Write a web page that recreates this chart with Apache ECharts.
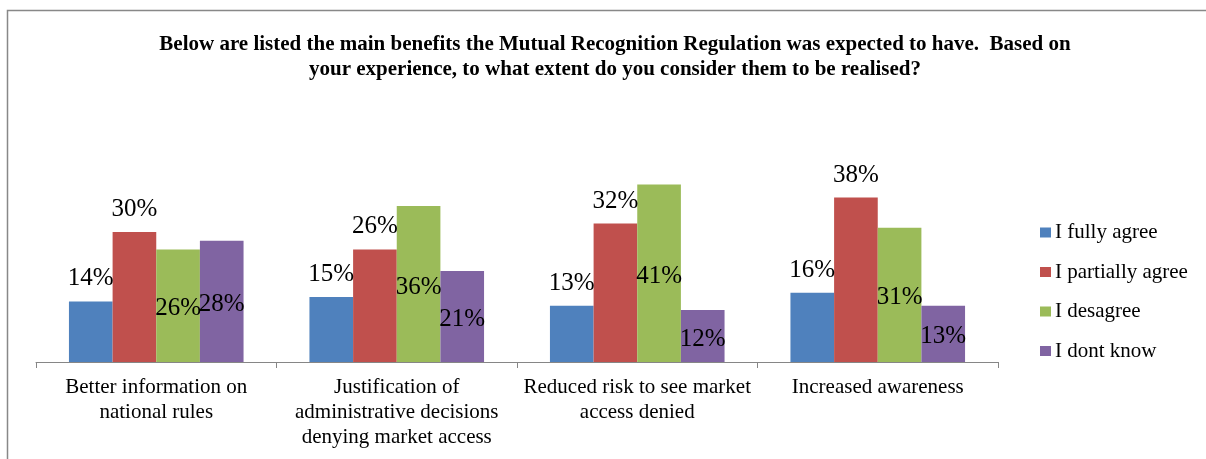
<!DOCTYPE html>
<html>
<head>
<meta charset="utf-8">
<title>Mutual Recognition Regulation benefits</title>
<script src="https://cdn.jsdelivr.net/npm/echarts@6/dist/echarts.min.js"></script>
<style>
  html, body { margin: 0; padding: 0; background: #fff; }
  #chart { width: 1206px; height: 459px; }
</style>
</head>
<body>
<div id="chart"></div>
<script>
// data
const categories = [
  'Better information on\nnational rules',
  'Justification of\nadministrative decisions\ndenying market access',
  'Reduced risk to see market\naccess denied',
  'Increased awareness'
];
const seriesNames = ['I fully agree', 'I partially agree', 'I desagree', 'I dont know'];
const fullyAgree = [14, 15, 13, 16];
const partiallyAgree = [30, 26, 32, 38];
const disagree = [26, 36, 41, 31];
const dontKnow = [28, 21, 12, 13];
const colors = ['#4F81BD', '#C0504D', '#9BBB59', '#8064A2'];

const serif = '"Liberation Serif", "Times New Roman", serif';

const myChart = echarts.init(document.getElementById('chart'));

// label above the bar for the first two series, inside for the others
const makeSeries = (name, data, color, inside) => ({
  name: name,
  type: 'bar',
  data: data,
  barGap: '0%',
  barCategoryGap: '27.4%',
  itemStyle: { color: color },
  label: {
    show: true,
    position: inside ? 'inside' : 'top',
    distance: 10,
    offset: inside ? [0, 3] : [0, 0],
    formatter: '{c}%',
    fontFamily: serif,
    fontSize: 25,
    color: '#000'
  }
});

const option = {
  animation: false,
  textStyle: { fontFamily: serif },
  title: {
    text: 'Below are listed the main benefits the Mutual Recognition Regulation was expected to have.  Based on\nyour experience, to what extent do you consider them to be realised?',
    left: 610,
    top: 27,
    textAlign: 'center',
    textStyle: {
      fontFamily: serif,
      fontWeight: 'bold',
      fontSize: 21,
      lineHeight: 25,
      color: '#000'
    }
  },
  legend: {
    orient: 'vertical',
    left: 1035,
    top: 217,
    itemWidth: 11,
    itemHeight: 10,
    itemGap: 18.5,
    icon: 'rect',
    data: seriesNames,
    textStyle: { fontFamily: serif, fontSize: 21, color: '#000', padding: [0, 0, 0, -1] }
  },
  grid: {
    left: 36,
    top: 145.5,
    width: 962,
    height: 216.5
  },
  xAxis: {
    type: 'category',
    data: categories,
    axisLine: { lineStyle: { color: '#868686', width: 1 } },
    axisTick: { show: true, length: 6, lineStyle: { color: '#868686' } },
    axisLabel: {
      interval: 0,
      margin: 13,
      fontFamily: serif,
      fontSize: 21,
      lineHeight: 25,
      color: '#000'
    }
  },
  yAxis: {
    type: 'value',
    min: 0,
    max: 50,
    show: false,
    splitLine: { show: false }
  },
  // outer frame of the original figure
  graphic: [{
    type: 'rect',
    shape: { x: 7.5, y: 10.5, width: 1400, height: 600 },
    style: { fill: null, stroke: '#888', lineWidth: 1.5 },
    silent: true
  }],
  series: [
    makeSeries(seriesNames[0], fullyAgree, colors[0], false),
    makeSeries(seriesNames[1], partiallyAgree, colors[1], false),
    makeSeries(seriesNames[2], disagree, colors[2], true),
    makeSeries(seriesNames[3], dontKnow, colors[3], true)
  ]
};

myChart.setOption(option);
</script>
</body>
</html>
